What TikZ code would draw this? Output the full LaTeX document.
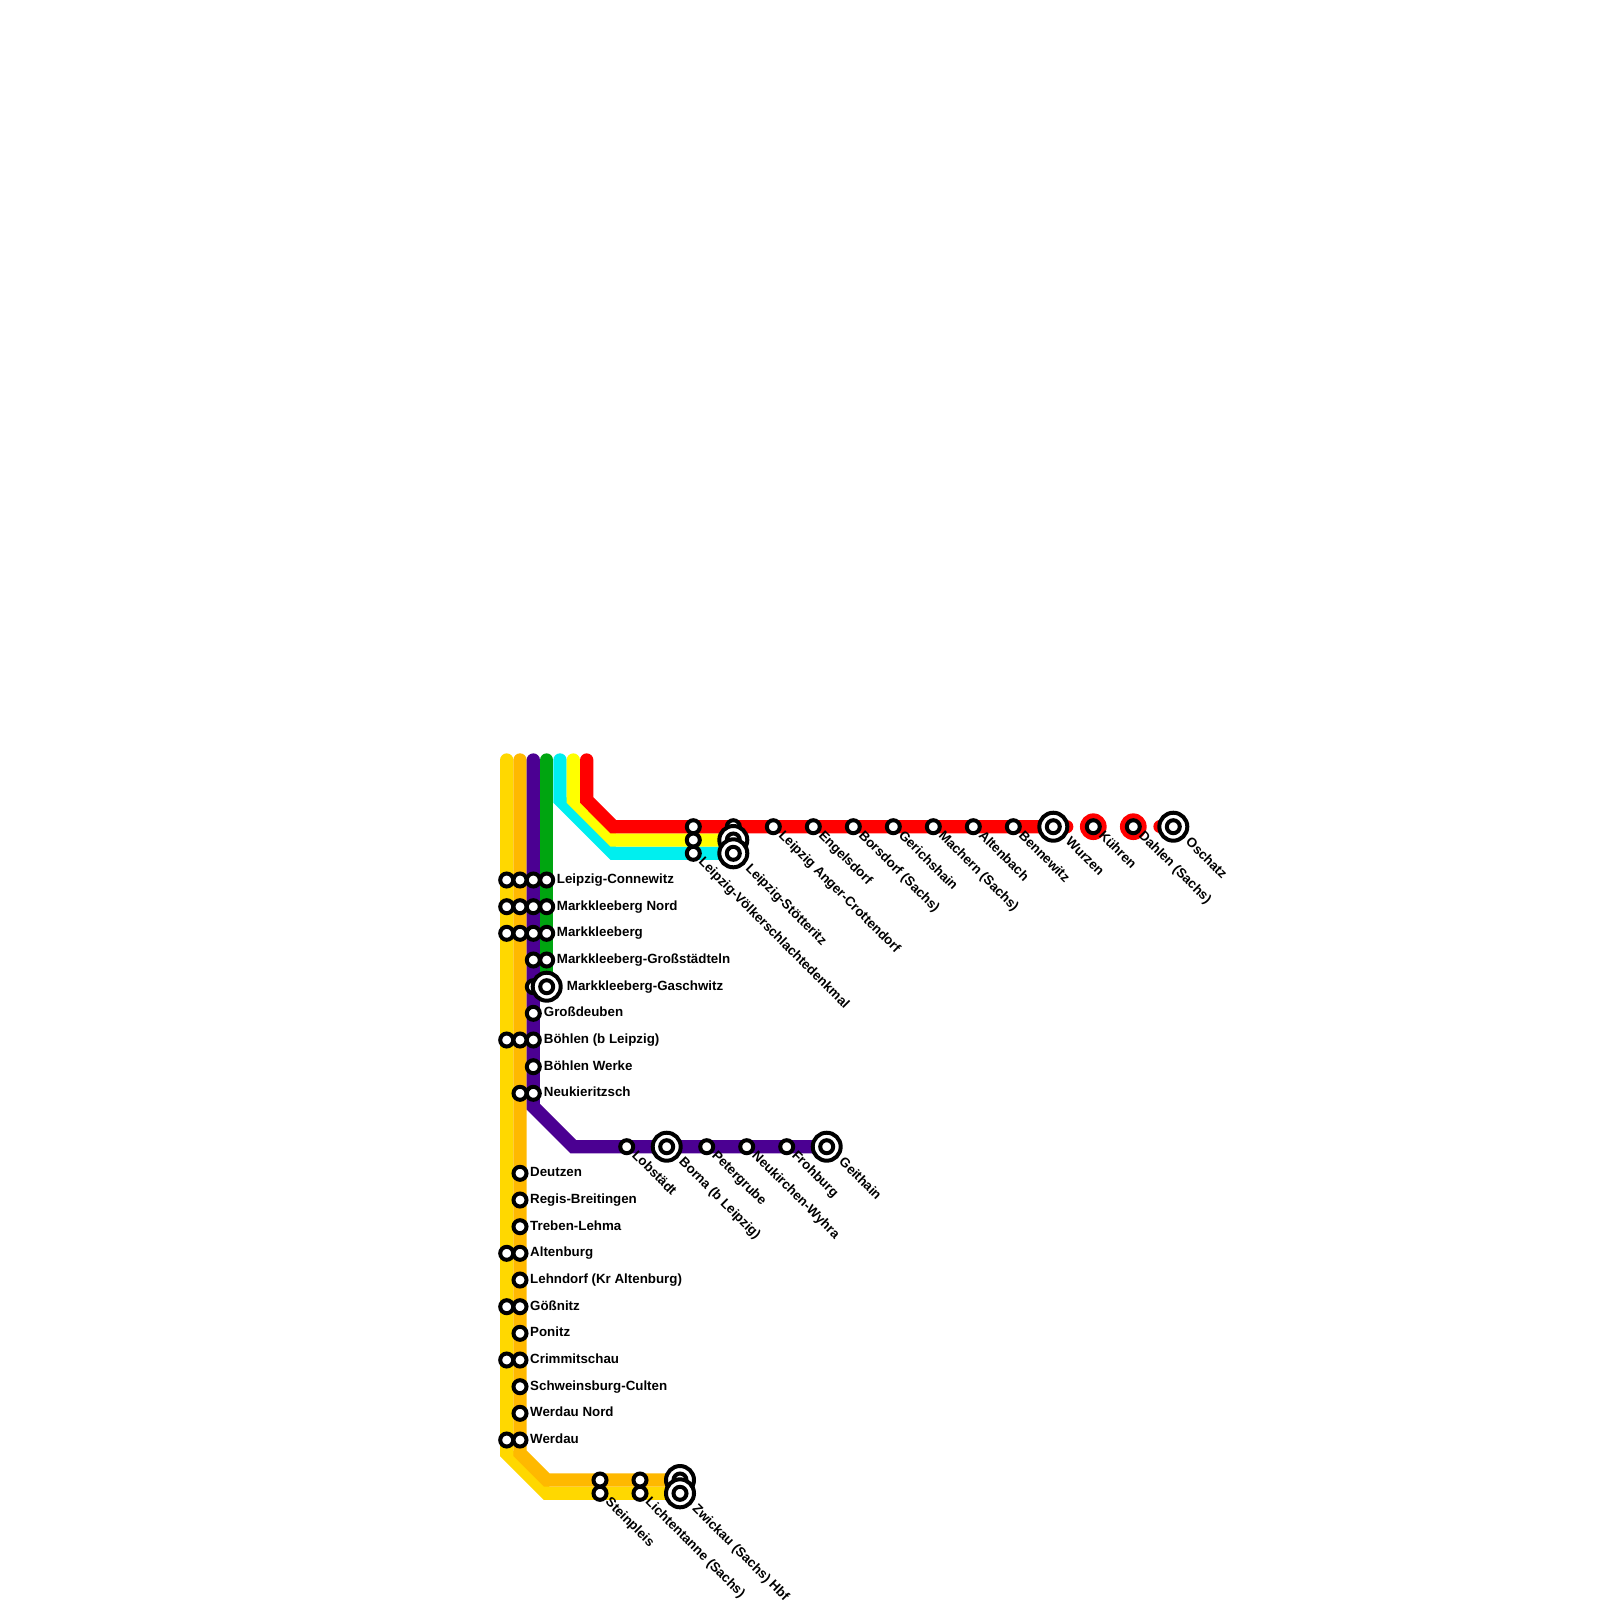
\documentclass[tikz,border=0pt]{standalone}
\usepackage{fontspec}
\setmainfont{Liberation Sans}
\usetikzlibrary{backgrounds}
\definecolor{lnGold}{HTML}{FFD800}
\definecolor{lnOrange}{HTML}{FFB900}
\definecolor{lnPurple}{HTML}{4B0092}
\definecolor{lnGreen}{HTML}{00A510}
\definecolor{lnCyan}{HTML}{00EFEF}
\definecolor{lnYellow}{HTML}{FFFF00}
\definecolor{lnRed}{HTML}{FF0000}
\tikzset{
  railline/.style={line width=13.33pt, line cap=round, line join=miter},
  stop/.style={circle, draw=black, fill=white, line width=4pt, minimum size=13pt,
    inner sep=0pt, outer sep=0pt},
  bigstop/.style={circle, draw=black, fill=white, line width=4pt, minimum size=28pt,
    inner sep=0pt, outer sep=0pt},
  reddot/.style={circle, fill=lnRed, minimum size=26.7pt, inner sep=0pt, outer sep=0pt},
  stoplabel/.style={anchor=west, inner sep=0pt, font=\bfseries\fontsize{13.33pt}{15pt}\selectfont,
    text height=9.5pt, text depth=2.8pt},
  slantlabel/.style={stoplabel, rotate=-45}
}

\begin{document}
\begin{tikzpicture}[x=1pt, y=-1pt]
  \useasboundingbox (0,0) rectangle (1600,1600);

  % line ends and bends
  \foreach \n/\x/\y in {goldtop/506.7/760,goldb1/506.7/1453.3,goldb2/546.7/1493.3,
    orangetop/520/760,orangeb1/520/1453.3,orangeb2/546.7/1480,
    purpletop/533.3/760,purpleb1/533.3/1106.7,purpleb2/573.3/1146.7,
    greentop/546.7/760,cyantop/560/760,cyanb1/560/800,cyanb2/613.3/853.3,
    yellowtop/573.3/760,yellowb1/573.3/800,yellowb2/613.3/840,
    redtop/586.7/760,redb1/586.7/800,redb2/613.3/826.7,redend/1066.7/826.7,redstart/1160/826.7}{
    \coordinate (\n) at (\x,\y);
  }

  % stops on the vertical lines
  \foreach \n/\x/\y in {conna/506.7/880,connb/520/880,connc/533.3/880,connd/546.7/880,
    nordb/506.7/906.7,nordc/520/906.7,nordd/533.3/906.7,norde/546.7/906.7,
    markb/506.7/933.3,markc/520/933.3,markd/533.3/933.3,marke/546.7/933.3,
    grossc/533.3/960,grossd/546.7/960,gaschc/533.3/986.7,deubc/533.3/1013.3,
    boehla/506.7/1040,boehlb/520/1040,boehlc/533.3/1040,werkec/533.3/1066.7,
    neukb/520/1093.3,neukc/533.3/1093.3,deutb/520/1173.3,regisb/520/1200,trebb/520/1226.7,
    altena/506.7/1253.3,altenb/520/1253.3,lehnb/520/1280,goessa/506.7/1306.7,goessb/520/1306.7,
    ponb/520/1333.3,crima/506.7/1360,crimb/520/1360,schwb/520/1386.7,wnordb/520/1413.3,
    werdaua/506.7/1440,werdaub/520/1440}{
    \node[stop] (\n) at (\x,\y) {};
  }
  \node[bigstop] (gasch) at (546.7,986.7) {};
  \node[stop] (gaschd) at (gasch) {};

  % stops on the horizontal lines
  \foreach \n/\x/\y in {voelka/693.3/826.7,voelkb/693.3/840,voelkc/693.3/853.3,stoeta/733.3/826.7,
    anger/773.3/826.7,engel/813.3/826.7,borsd/853.3/826.7,gerich/893.3/826.7,machern/933.3/826.7,
    altbach/973.3/826.7,bennew/1013.3/826.7,
    lobst/626.7/1146.7,peter/706.7/1146.7,neukir/746.7/1146.7,froh/786.7/1146.7,
    steina/600/1480,steinb/600/1493.3,lichta/640/1480,lichtb/640/1493.3}{
    \node[stop] (\n) at (\x,\y) {};
  }
  \foreach \n/\x/\y in {stoetb/733.3/840,stoetc/733.3/853.3,wurzen/1053.3/826.7,oschatz/1173.3/826.7,
    borna/666.7/1146.7,geith/826.7/1146.7,zwicka/680/1480,zwickb/680/1493.3}{
    \node[bigstop] (\n) at (\x,\y) {};
    \node[stop] (\n in) at (\n) {};
  }
  \foreach \n/\x in {kuehren/1093.3,dahlen/1133.3}{
    \node[stop] (\n) at (\x,826.7) {};
  }

  \begin{scope}[on background layer]
    \draw[railline, lnGold] (goldtop) -- (goldb1) -- (goldb2) -- (zwickb.center);
    \draw[railline, lnOrange] (orangetop) -- (orangeb1) -- (orangeb2) -- (zwicka.center);
    \draw[railline, lnPurple] (purpletop) -- (purpleb1) -- (purpleb2) -- (geith.center);
    \draw[railline, lnGreen] (greentop) -- (gasch.center);
    \draw[railline, lnCyan] (cyantop) -- (cyanb1) -- (cyanb2) -- (stoetc.center);
    \draw[railline, lnYellow] (yellowtop) -- (yellowb1) -- (yellowb2) -- (stoetb.center);
    \draw[railline, lnRed] (redtop) -- (redb1) -- (redb2) -- (redend);
    \draw[railline, lnRed] (redstart) -- (oschatz.center);
    \node[reddot] (kuehrendot) at (kuehren) {};
    \node[reddot] (dahlendot) at (dahlen) {};
  \end{scope}

  % labels beside the stops
  \foreach \n/\x/\t in {connd/556.7/Leipzig-Connewitz,norde/556.7/Markkleeberg Nord,marke/556.7/Markkleeberg,
    grossd/556.7/Markkleeberg-Großstädteln,gasch/566.7/Markkleeberg-Gaschwitz,deubc/543.7/Großdeuben,
    boehlc/543.7/Böhlen (b Leipzig),werkec/543.7/Böhlen Werke,neukc/543.7/Neukieritzsch,
    deutb/530/Deutzen,regisb/530/Regis-Breitingen,trebb/530/Treben-Lehma,altenb/530/Altenburg,
    lehnb/530/Lehndorf (Kr Altenburg),goessb/530/Gößnitz,ponb/530/Ponitz,crimb/530/Crimmitschau,
    schwb/530/Schweinsburg-Culten,wnordb/530/Werdau Nord,werdaub/530/Werdau}{
    \node[stoplabel] (text\n) at (\x,0 |- \n.center) {\t};
  }

  % slanted labels, small stops
  \foreach \n/\t in {voelkc/Leipzig-Völkerschlachtedenkmal,anger/Leipzig Anger-Crottendorf,engel/Engelsdorf,
    borsd/Borsdorf (Sachs),gerich/Gerichshain,machern/Machern (Sachs),altbach/Altenbach,bennew/Bennewitz,
    kuehren/Kühren,dahlen/Dahlen (Sachs),lobst/Lobstädt,peter/Petergrube,neukir/Neukirchen-Wyhra,
    froh/Frohburg,steinb/Steinpleis,lichtb/Lichtentanne (Sachs)}{
    \node[slantlabel] (text\n) at ([shift={(7,7)}]\n.center) {\t};
  }
  % slanted labels, big stops
  \foreach \n/\t in {stoetc/Leipzig-Stötteritz,wurzen/Wurzen,oschatz/Oschatz,borna/Borna (b Leipzig),
    geith/Geithain,zwickb/Zwickau (Sachs) Hbf}{
    \node[slantlabel] (text\n) at ([shift={(14,13.5)}]\n.center) {\t};
  }
\end{tikzpicture}
\end{document}
